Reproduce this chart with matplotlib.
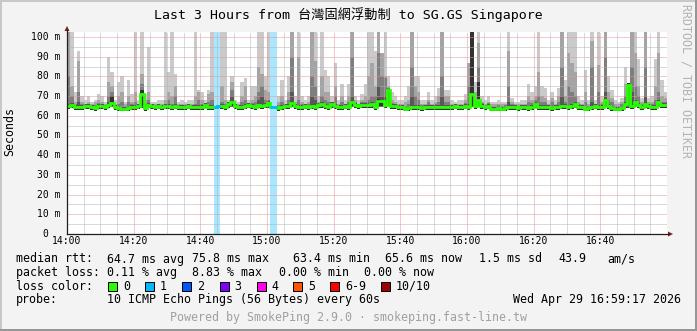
import numpy as np
import matplotlib
matplotlib.use('Agg')
import matplotlib.pyplot as plt
from matplotlib.patches import Polygon, Rectangle
from matplotlib.lines import Line2D
import matplotlib.transforms as mtransforms

# ---------------- data (ms, one value per minute from 14:00) ----------------
median = [
    65, 65.5, 64.5, 64.5, 64.5, 65, 65, 64.5, 64, 65,
    65, 64.5, 65.5, 66.5, 64.5, 64, 63.5, 63.5, 64, 64.5,
    64.5, 65, 71, 64, 65.5, 65, 64.5, 65, 64.5, 65,
    65, 64.5, 65, 64.5, 64.5, 64.5, 65, 64.5, 64.5, 64.5,
    64.5, 65.5, 64.5, 64.5, 64.5, 65, 65, 64.5, 66, 67,
    65, 64.5, 64.5, 65, 65.5, 65, 64.5, 65.5, 65, 65.5,
    66.5, 64.5, 64.5, 64, 64.5, 65, 65, 66.5, 65, 64.5,
    64.5, 65, 64.5, 65, 64.5, 65.5, 66, 65, 64.5, 66,
    65, 64.5, 64.5, 65, 64.5, 67, 65.5, 65, 65.5, 65.5,
    65.5, 66, 64.5, 67.5, 67.5, 65.5, 73, 65, 65, 64.5,
    64.5, 63.4, 64, 64.5, 64.5, 64.5, 64, 64.5, 64.5, 64.5,
    64.5, 64.5, 64.5, 64.5, 64.5, 64.5, 65, 64.5, 64.5, 65,
    64.5, 71, 65, 68, 65, 64.5, 65, 63.5, 63.5, 64,
    63.5, 64, 64.5, 64.5, 64.5, 64, 64.5, 64.5, 64, 64.5,
    66, 64.5, 64.5, 64.5, 64.5, 64, 64.5, 64.5, 65, 65,
    64.5, 65, 66, 64.5, 64.5, 63.5, 64, 64.5, 65, 64.5,
    64.5, 68, 65, 64, 63.5, 63.5, 64, 66, 75.8, 65,
    67, 65.5, 64.5, 66, 65, 64.5, 64.5, 67, 65.5, 65.6]

ping_min = [
    63.5, 64, 63, 63, 63, 63.5, 63.5, 63, 62.5, 63.5,
    63.5, 63, 64, 64.5, 63, 62.5, 62.5, 62.5, 62.5, 63,
    63, 63.5, 64, 62.5, 64, 63.5, 63, 63.5, 63, 63.5,
    63.5, 63, 63.5, 63, 63, 63, 63.5, 63, 63, 63,
    63, 64, 63, 63, 63, 63.5, 63.5, 63, 64, 64.5,
    63.5, 63, 63, 63.5, 64, 63.5, 63, 64, 63.5, 64,
    64, 63, 63, 62.5, 63, 63.5, 63.5, 64.5, 63.5, 63,
    63, 63.5, 63, 63.5, 63, 64, 64, 63.5, 63, 64,
    63.5, 63, 63, 63.5, 63, 64.5, 64, 63.5, 64, 64,
    64, 64, 63, 64.5, 64.5, 64, 65, 63.5, 63.5, 63,
    63, 62.5, 62.5, 63, 63, 63, 62.5, 63, 63, 63,
    63, 63, 63, 63, 63, 63, 63.5, 63, 63, 63.5,
    63, 64.5, 63.5, 64.5, 63.5, 63, 63.5, 62.5, 62.5, 62.5,
    62.5, 62.5, 63, 63, 63, 62.5, 63, 63, 62.5, 63,
    64, 63, 63, 63, 63, 62.5, 63, 63, 63.5, 63.5,
    63, 63.5, 64, 63, 63, 62.5, 62.5, 63, 63.5, 63,
    63, 64.5, 63.5, 62.5, 62.5, 62.5, 62.5, 64, 64, 63.5,
    64.5, 64, 63, 64, 63.5, 63, 63, 64.5, 64, 64]

ping_max = [
    105, 105, 72, 93, 70, 68, 70, 67, 68, 71,
    70, 67, 90, 82, 68, 77, 80, 67, 78, 71,
    105, 68, 105, 71, 95, 67, 67, 68, 68, 105,
    82, 105, 81, 67, 68, 67, 68, 68, 105, 73,
    72, 68, 73, 105, 105, 105, 105, 105, 68, 80,
    68, 67, 77, 79, 68, 75, 75, 105, 105, 80,
    105, 105, 105, 70, 78, 68, 80, 105, 70, 105,
    70, 68, 70, 105, 105, 70, 105, 83, 80, 70,
    87, 68, 76, 68, 76, 105, 70, 68, 71, 76,
    105, 105, 93, 105, 92, 105, 80, 72, 70, 68,
    68, 70, 75, 105, 80, 80, 68, 68, 72, 68,
    70, 74, 105, 73, 73, 68, 67, 68, 68, 71,
    87, 105, 77, 105, 70, 68, 70, 67, 67, 68,
    67, 67, 105, 69, 67, 67, 68, 68, 76, 72,
    75, 105, 75, 74, 68, 72, 68, 74, 105, 78,
    105, 105, 105, 70, 68, 83, 68, 105, 68, 105,
    70, 105, 80, 73, 68, 67, 69, 85, 76, 105,
    105, 89, 69, 105, 69, 70, 89, 105, 78, 72]

ping_9 = [
    105, 75, 67, 88, 67, 66, 67, 66, 67, 68,
    67, 66, 77, 75, 66, 70, 72, 66, 70, 67,
    72, 66, 81, 68, 72, 66, 66, 66, 66, 68,
    72, 70, 75, 66, 66, 66, 66, 66, 70, 72,
    68, 66, 71, 72, 70, 105, 75, 68, 66, 77,
    66, 66, 70, 75, 66, 68, 70, 85, 81, 73,
    72, 70, 70, 67, 70, 66, 72, 105, 67, 90,
    67, 66, 67, 105, 88, 67, 80, 72, 72, 67,
    75, 66, 70, 66, 70, 105, 68, 66, 68, 70,
    80, 87, 75, 105, 92, 80, 75, 68, 67, 66,
    66, 67, 68, 105, 75, 72, 66, 66, 68, 66,
    67, 70, 105, 70, 70, 66, 66, 66, 66, 68,
    87, 105, 72, 97, 67, 66, 67, 66, 66, 66,
    66, 66, 93, 67, 66, 66, 66, 66, 70, 68,
    70, 82, 70, 69, 66, 69, 66, 70, 105, 70,
    92, 87, 82, 67, 66, 72, 66, 98, 66, 86,
    67, 105, 72, 69, 66, 66, 67, 76, 76, 105,
    92, 75, 67, 105, 67, 67, 75, 92, 70, 69]

ping_8 = [
    80, 70, 66, 72, 66, 65.5, 66, 65.5, 65.5, 66.5,
    66, 65.5, 70, 72, 65.5, 66, 67, 65, 67, 66,
    67, 66, 76, 66, 68, 66, 65.5, 66, 65.5, 66,
    68, 66, 70, 65.5, 65.5, 65.5, 66, 65.5, 66, 68,
    66, 66.5, 67, 68, 67, 66, 67, 66, 66, 73,
    66, 65.5, 67, 68, 66, 66.5, 67, 72, 75, 68,
    68, 66, 66, 65.5, 67, 66, 68, 90, 66, 68,
    66, 66, 66, 80, 75, 66.5, 70, 68, 67, 66.5,
    70, 65.5, 67, 66, 67, 90, 67, 66, 67, 67,
    68, 70, 70, 92, 80, 79, 74, 66.5, 66, 65.5,
    65.5, 65, 66, 85, 70, 68, 65.5, 65.5, 67, 65.5,
    66, 67, 80, 67, 67, 65.5, 66, 65.5, 65.5, 66.5,
    75, 105, 68, 85, 66.5, 65.5, 66.5, 65, 65, 65.5,
    65, 65.5, 75, 66, 65.5, 65, 65.5, 65.5, 67, 66.5,
    68, 70, 67, 67, 65.5, 67, 65.5, 67, 85, 67,
    75, 72, 70, 66, 65.5, 67, 65, 85, 65.5, 72,
    66, 90, 68, 67, 65, 65, 66, 70, 76, 85,
    75, 70, 66, 85, 66, 66, 68, 72, 67, 67]

ping_7 = [
    66, 66.5, 65.5, 67, 65.5, 66, 66, 65.5, 65, 66,
    66, 65.5, 67, 70, 65.5, 65, 64.5, 64.5, 65, 65.5,
    65.5, 66, 73, 65, 66.5, 66, 65.5, 66, 65.5, 66,
    66, 65.5, 66, 65.5, 65.5, 65.5, 66, 65.5, 65.5, 65.5,
    65.5, 66.5, 65.5, 65.5, 65.5, 66, 66, 65.5, 67, 70,
    66, 65.5, 65.5, 66, 66.5, 66, 65.5, 68, 70, 66.5,
    67.5, 65.5, 65.5, 65, 65.5, 66, 66, 72, 66, 65.5,
    65.5, 66, 65.5, 70, 68, 66.5, 67, 66, 65.5, 67,
    66, 65.5, 65.5, 66, 65.5, 70, 66.5, 66, 66.5, 66.5,
    66.5, 67, 65.5, 75, 70, 70, 73, 66, 66, 65.5,
    65.5, 64.5, 65, 70, 65.5, 65.5, 65, 65.5, 65.5, 65.5,
    65.5, 65.5, 70, 65.5, 65.5, 65.5, 66, 65.5, 65.5, 66,
    66, 105, 66, 77, 66, 65.5, 66, 64.5, 64.5, 65,
    64.5, 65, 67, 65.5, 65.5, 65, 65.5, 65.5, 65, 65.5,
    67, 65.5, 65.5, 65.5, 65.5, 65, 65.5, 65.5, 70, 66,
    65.5, 66, 67, 65.5, 65.5, 64.5, 65, 67, 66, 65.5,
    65.5, 72, 66, 65, 64.5, 64.5, 65, 67, 76, 72,
    68, 66.5, 65.5, 70, 66, 65.5, 65.5, 68, 66.5, 66.5]

ping_6 = [
    65, 65.5, 64.5, 64.5, 64.5, 65, 65, 64.5, 64, 65,
    65, 64.5, 65.5, 70, 64.5, 64, 63.5, 63.5, 64, 64.5,
    64.5, 65, 73, 64, 65.5, 65, 64.5, 65, 64.5, 65,
    65, 64.5, 65, 64.5, 64.5, 64.5, 65, 64.5, 64.5, 64.5,
    64.5, 65.5, 64.5, 64.5, 64.5, 65, 65, 64.5, 66, 67,
    65, 64.5, 64.5, 65, 65.5, 65, 64.5, 65.5, 65, 65.5,
    66.5, 64.5, 64.5, 64, 64.5, 65, 65, 66.5, 65, 64.5,
    64.5, 65, 64.5, 65, 64.5, 65.5, 66, 65, 64.5, 66,
    65, 64.5, 64.5, 65, 64.5, 67, 65.5, 65, 65.5, 65.5,
    65.5, 66, 64.5, 68.5, 67.5, 65.5, 73.5, 65, 65, 64.5,
    64.5, 63.4, 64, 64.5, 64.5, 64.5, 64, 64.5, 64.5, 64.5,
    64.5, 64.5, 64.5, 64.5, 64.5, 64.5, 65, 64.5, 64.5, 65,
    64.5, 105, 65, 77, 65, 64.5, 65, 63.5, 63.5, 64,
    63.5, 64, 64.5, 64.5, 64.5, 64, 64.5, 64.5, 64, 64.5,
    66, 64.5, 64.5, 64.5, 64.5, 64, 64.5, 64.5, 65, 65,
    64.5, 65, 66, 64.5, 64.5, 63.5, 64, 64.5, 65, 64.5,
    64.5, 68, 65, 64, 63.5, 63.5, 64, 66, 76.5, 65,
    67, 65.5, 64.5, 66, 65, 64.5, 64.5, 67, 65.5, 65.6]

# lost pings (out of 10) per minute
loss = [0] * 44 + [1, 1] + [0] * 15 + [1, 1] + [0] * 117

y_ticks = [0, 10, 20, 30, 40, 50, 60, 70, 80, 90, 100]
y_tick_labels = ['0', '10 m', '20 m', '30 m', '40 m', '50 m', '60 m', '70 m', '80 m', '90 m', '100 m']
x_ticks = [0, 20, 40, 60, 80, 100, 120, 140, 160]
x_tick_labels = ['14:00', '14:20', '14:40', '15:00', '15:20', '15:40', '16:00', '16:20', '16:40']

title = 'Last 3 Hours from 台灣固網浮動制 to SG.GS Singapore'
rtt_items = ['64.7 ms avg', '75.8 ms max', '63.4 ms min', '65.6 ms now', '1.5 ms sd', '43.9', 'am/s']
loss_items = ['0.11 % avg', '8.83 % max', '0.00 % min', '0.00 % now']
loss_levels = ['0', '1', '2', '3', '4', '5', '6-9', '10/10']
loss_colors = ['#26ff00', '#00b8ff', '#0059ff', '#7e00ff', '#ff00ea', '#ff5500', '#ff0000', '#a10000']
probe_text = '10 ICMP Echo Pings (56 Bytes) every 60s'
date_text = 'Wed Apr 29 16:59:17 2026'
footer = 'Powered by SmokePing 2.9.0 · smokeping.fast-line.tw'
watermark = 'RRDTOOL / TOBI OETIKER'

# ---------------- layout ----------------
W, H, DPI = 697, 331, 100
MONO = ['DejaVu Sans Mono', 'Noto Sans CJK TC']
plt.rcParams['font.family'] = MONO
TITLE_FS, LEG_FS, TICK_FS = 9.5, 8.35, 7.0


def fx(px):
    return px / W


def fy(py):
    return 1 - py / H


fig = plt.figure(figsize=(W / DPI, H / DPI), dpi=DPI, facecolor='#f3f3f3')
PX_L, PX_R, PX_T, PX_B = 67, 667, 32, 234
ax = fig.add_axes([fx(PX_L), fy(PX_B), (PX_R - PX_L) / W, (PX_B - PX_T) / H])
ax.set_facecolor('white')
ax.set_xlim(0, len(median))
ax.set_ylim(0, (PX_B - PX_T) / 1.97)
for s in ax.spines.values():
    s.set_visible(False)
ax.set_xticks([])
ax.set_yticks([])

edges = np.arange(len(median) + 1)

# smoke layers
layers = [(ping_max, '#cacaca'), (ping_9, '#a4a4a4'), (ping_8, '#7e7e7e'),
          (ping_7, '#585858'), (ping_6, '#323232')]
for z, (top, col) in enumerate(layers):
    ax.stairs(top, edges, baseline=ping_min, fill=True, color=col, lw=0, zorder=1 + z)


def loss_index(n):
    if n <= 5:
        return n
    if n < 10:
        return 6
    return 7


def lighten(c, a):
    r, g, b = matplotlib.colors.to_rgb(c)
    return (1 - a * (1 - r), 1 - a * (1 - g), 1 - a * (1 - b))


# loss runs
runs = []
i = 0
while i < len(loss):
    if loss[i] > 0:
        j = i
        while j < len(loss) and loss[j] == loss[i]:
            j += 1
        runs.append((i, j, loss_index(loss[i])))
        i = j
    else:
        i += 1
for a, b, li in runs:
    ax.axvspan(edges[a], edges[b], color=lighten(loss_colors[li], 0.34), lw=0, zorder=6)

# grid
MAJ, MIN = '#eb9595', '#b4b4b4'
for v in range(5, 101, 5):
    ax.axhline(v, color=MAJ if v % 10 == 0 else MIN, lw=0.72, ls=(0, (1, 1)), zorder=7)
for m in range(5, 181, 5):
    ax.axvline(m, color=MAJ if m % 20 == 0 else MIN, lw=0.72, ls=(0, (1, 1)), zorder=7)

# median line
ax.stairs(median, edges, baseline=None, color=loss_colors[0], lw=2.0, zorder=8)
for a, b, li in runs:
    ax.stairs(median[a:b], edges[a:b + 1], baseline=None, color=loss_colors[li], lw=2.0, zorder=9)

# axes lines and arrows
AXC, ARC = '#1f1f1f', '#801f1f'
fig.add_artist(Line2D([fx(PX_L), fx(669)], [fy(PX_B)] * 2, color=AXC, lw=0.9))
fig.add_artist(Line2D([fx(PX_L)] * 2, [fy(PX_B), fy(30)], color=AXC, lw=0.9))
fig.add_artist(Polygon([(fx(668), fy(231.5)), (fx(673), fy(PX_B)), (fx(668), fy(236.5))],
                       closed=True, color=ARC, lw=0))
fig.add_artist(Polygon([(fx(64.5), fy(31)), (fx(PX_L), fy(26)), (fx(69.5), fy(31))],
                       closed=True, color=ARC, lw=0))

# tick labels
tx = mtransforms.blended_transform_factory(ax.transData, fig.transFigure)
for v, lab in zip(x_ticks, x_tick_labels):
    ax.text(v, fy(241.5), lab, transform=tx, ha='center', va='center', fontsize=TICK_FS)
ty = mtransforms.blended_transform_factory(fig.transFigure, ax.transData)
charw = TICK_FS / 72 * DPI * 0.602
for v, lab in zip(y_ticks, y_tick_labels):
    xr = 60 if ' ' in lab else 60 - 2 * charw
    ax.text(fx(xr), v, lab, transform=ty, ha='right', va='center', fontsize=TICK_FS)

fig.text(fx(10), fy(132), 'Seconds', rotation=90, ha='center', va='center', fontsize=LEG_FS)
fig.text(fx(348.5), fy(15), title, ha='center', va='center', fontsize=TITLE_FS)
fig.text(fx(686), fy(4), watermark, rotation=270, ha='center', va='top',
         fontsize=LEG_FS, color='#b4b4b4')

# legend
R1, R2, R3, R4, R5 = 259, 272.5, 286, 300, 318
fig.text(fx(16), fy(R1), 'median rtt:', ha='left', va='center', fontsize=LEG_FS)
for txt, xp in zip(rtt_items, [107, 192, 293, 385, 479, 558, 607]):
    fig.text(fx(xp), fy(R1), txt, ha='left', va='center', fontsize=LEG_FS)
fig.text(fx(16), fy(R2), 'packet loss:', ha='left', va='center', fontsize=LEG_FS)
for txt, xp in zip(loss_items, [107, 192, 279, 364.5]):
    fig.text(fx(xp), fy(R2), txt, ha='left', va='center', fontsize=LEG_FS)
fig.text(fx(16), fy(R3), 'loss color:', ha='left', va='center', fontsize=LEG_FS)
box_x = [108, 145, 182, 219.5, 256.5, 293, 330, 381]
for lab, col, bx in zip(loss_levels, loss_colors, box_x):
    fig.add_artist(Rectangle((fx(bx), fy(R3 + 4.5)), 9 / W, 9 / H, facecolor=col,
                             edgecolor='black', lw=0.72))
    fig.text(fx(bx + 15), fy(R3), lab, ha='left', va='center', fontsize=LEG_FS)
fig.text(fx(16), fy(R4), 'probe:', ha='left', va='center', fontsize=LEG_FS)
fig.text(fx(107), fy(R4), probe_text, ha='left', va='center', fontsize=LEG_FS)
fig.text(fx(681), fy(R4), date_text, ha='right', va='center', fontsize=LEG_FS)
fig.text(fx(348.5), fy(R5), footer, ha='center', va='center', fontsize=LEG_FS, color='#a0a0a0')

# 3D frame shading
fig.add_artist(Rectangle((0, 1 - 2 / H), 1, 2 / H, color='#c8c8c8', lw=0))
fig.add_artist(Rectangle((0, 0), 2 / W, 1, color='#c8c8c8', lw=0))
fig.add_artist(Rectangle((0, 0), 1, 2 / H, color='#969696', lw=0))
fig.add_artist(Rectangle((1 - 2 / W, 0), 2 / W, 1, color='#969696', lw=0))

fig.savefig('out.png', dpi=DPI, facecolor=fig.get_facecolor())
